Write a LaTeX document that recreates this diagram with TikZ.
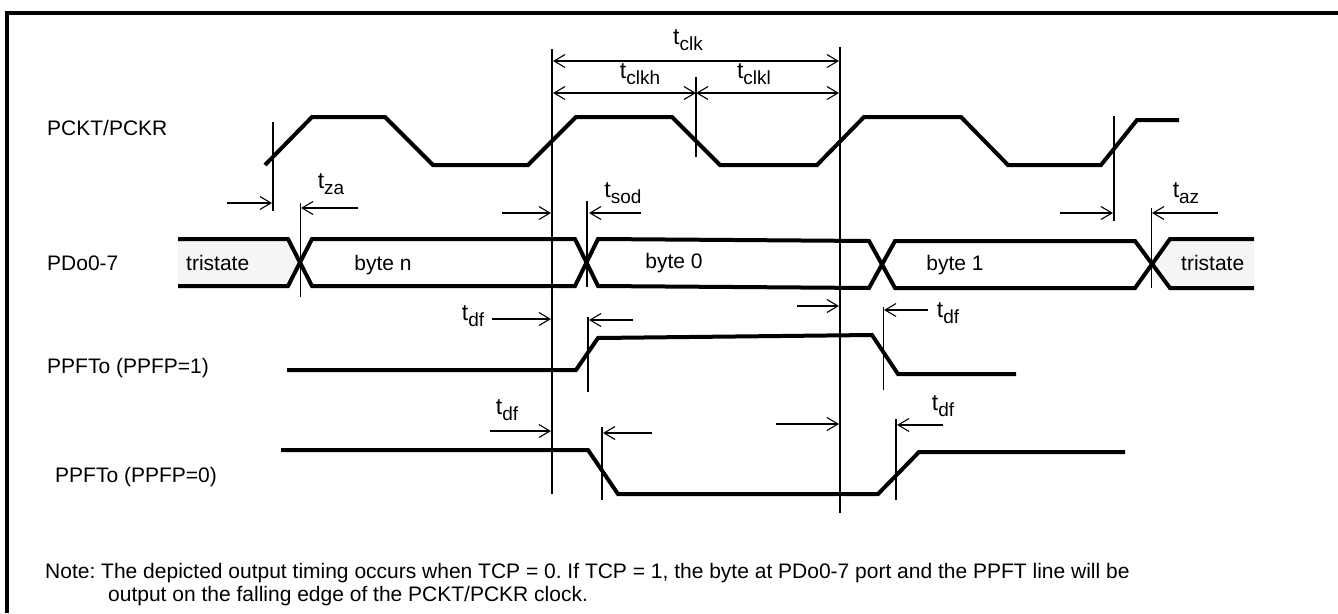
\documentclass[tikz,border=0pt]{standalone}
\usepackage{fontspec}
\setmainfont{Liberation Sans}
\usetikzlibrary{arrows.meta}
\frenchspacing
\newcommand{\tlab}[1]{{\fontsize{23}{23}\selectfont t}{\fontsize{19}{19}\selectfont\raisebox{-5.5pt}{#1}}}
\tikzset{
  sig/.style={line width=4pt, line join=miter},
  ref/.style={line width=1.8pt},
  thinref/.style={line width=1pt},
  dim/.style={line width=1.3pt, -{Straight Barb[length=11pt,width=13pt,line width=1.1pt]}},
  dimboth/.style={line width=1.3pt, {Straight Barb[length=11pt,width=13pt,line width=1.1pt]}-{Straight Barb[length=11pt,width=13pt,line width=1.1pt]}},
  lbl/.style={font=\fontsize{21}{22}\selectfont, inner sep=0pt, anchor=base west},
  tl/.style={inner sep=0pt},
  note/.style={font=\fontsize{21}{22}\selectfont, inner sep=0pt, anchor=base west},
}
\definecolor{tri}{RGB}{245,245,245}
\begin{document}
\begin{tikzpicture}[x=1pt,y=-1pt]
\useasboundingbox (0,0) rectangle (1338,613);
% frame
\draw[line width=4pt] (7,613) -- (7,13) -- (1340,13);

% labels
\node[lbl] (lclk) at (47,135) {PCKT/PCKR};
\node[lbl] (lpd) at (47,270) {PDo0-7};
\node[lbl] (lp1) at (47,373) {PPFTo (PPFP=1)};
\node[lbl] (lp0) at (55,482) {PPFTo (PPFP=0)};

% clock
\draw[sig] (265,165) -- (312,117) -- (385,117) -- (433,165) -- (528,165) -- (576,117) -- (672,117) -- (720,165) -- (817,165) -- (864,117) -- (961,117) -- (1008,165) -- (1101,165) -- (1137,120) -- (1179,120);

% bus: tristate fills
\fill[tri] (178,239) -- (288,239) -- (300,262) -- (288,286) -- (178,286) -- cycle;
\fill[tri] (1254,239) -- (1165,239) -- (1152,262) -- (1165,286) -- (1254,286) -- cycle;
% bus lines
\draw[sig] (178,239) -- (288,239) -- (312,286) -- (575,286) -- (598,239) -- (869,241) -- (895,288) -- (1135,288) -- (1170,239) -- (1254,239);
\draw[sig] (178,286) -- (288,286) -- (312,239) -- (575,239) -- (598,286) -- (869,288) -- (895,241) -- (1135,241) -- (1170,288) -- (1254,288);
\node[lbl] (ts1) at (186,270) {tristate};
\node[lbl,anchor=base] (bn) at (383,270) {byte n};
\node[lbl,anchor=base] (b0) at (674,268) {byte 0};
\node[lbl,anchor=base] (b1) at (955,270) {byte 1};
\node[lbl] (ts2) at (1181,270) {tristate};

% PPFP=1
\draw[sig] (287,370) -- (576,370) -- (598,338) -- (872,335) -- (898,374) -- (1016,374);
% PPFP=0
\draw[sig] (281,450) -- (588,450) -- (618,494) -- (878,494) -- (919,452) -- (1125,452);

% reference lines
\coordinate (r1t) at (273,122); \coordinate (r1b) at (273,211);
\draw[ref] (r1t) -- (r1b);
\coordinate (za t) at (300,203); \coordinate (za b) at (300,297);
\draw[thinref] (za t) -- (za b);
\coordinate (A t) at (552,49); \coordinate (A b) at (552,494);
\draw[ref] (A t) -- (A b);
\coordinate (B t) at (840,47); \coordinate (B b) at (840,513);
\draw[ref] (B t) -- (B b);
\coordinate (M t) at (696,77); \coordinate (M b) at (696,157);
\draw[ref] (M t) -- (M b);
\coordinate (sod t) at (587,201); \coordinate (sod b) at (587,287);
\draw[ref] (sod t) -- (sod b);
\coordinate (p1r t) at (588,317); \coordinate (p1r b) at (588,392);
\draw[ref] (p1r t) -- (p1r b);
\coordinate (p0f t) at (602,427); \coordinate (p0f b) at (602,500);
\draw[ref] (p0f t) -- (p0f b);
\coordinate (p1f t) at (883,307); \coordinate (p1f b) at (883,390);
\draw[thinref] (p1f t) -- (p1f b);
\coordinate (p0r t) at (896,419); \coordinate (p0r b) at (896,500);
\draw[ref] (p0r t) -- (p0r b);
\coordinate (az1 t) at (1114,116); \coordinate (az1 b) at (1114,221);
\draw[ref] (az1 t) -- (az1 b);
\coordinate (az2 t) at (1151,208); \coordinate (az2 b) at (1151,288);
\draw[thinref] (az2 t) -- (az2 b);

% tclk dimensions
\coordinate (c1) at (553,61); \coordinate (c2) at (839,61);
\draw[dimboth] (c1) -- (c2);
\coordinate (h1) at (553,93); \coordinate (h2) at (696,93); \coordinate (h3) at (839,93);
\draw[dimboth] (h1) -- (h2);
\draw[dimboth] (h2) -- (h3);
\node[tl] (tclk) at (688,40) {\tlab{clk}};
\node[tl] (tclkh) at (640,74) {\tlab{clkh}};
\node[tl] (tclkl) at (754,74) {\tlab{clkl}};

% tza
\coordinate (za1) at (227,203); \coordinate (za2) at (272,203);
\draw[dim] (za1) -- (za2);
\coordinate (za3) at (358,208); \coordinate (za4) at (301,208);
\draw[dim] (za3) -- (za4);
\node[tl] (tza) at (331,184) {\tlab{za}};

% tsod
\coordinate (so1) at (502,213); \coordinate (so2) at (551,213);
\draw[dim] (so1) -- (so2);
\coordinate (so3) at (641,213); \coordinate (so4) at (589,213);
\draw[dim] (so3) -- (so4);
\node[tl] (tsod) at (623,193) {\tlab{sod}};

% taz
\coordinate (az1) at (1060,213); \coordinate (az2) at (1113,213);
\draw[dim] (az1) -- (az2);
\coordinate (az3) at (1218,213); \coordinate (az4) at (1152,213);
\draw[dim] (az3) -- (az4);
\node[tl] (taz) at (1186,193) {\tlab{az}};

% tdf PPFP=1
\coordinate (d1) at (492,319); \coordinate (d2) at (551,319);
\draw[dim] (d1) -- (d2);
\coordinate (d3) at (633,320); \coordinate (d4) at (589,320);
\draw[dim] (d3) -- (d4);
\node[tl] (tdf1) at (473,316) {\tlab{df}};
\coordinate (d5) at (797,306); \coordinate (d6) at (839,306);
\draw[dim] (d5) -- (d6);
\coordinate (d7) at (928,310); \coordinate (d8) at (884,310);
\draw[dim] (d7) -- (d8);
\node[tl] (tdf2) at (948,313) {\tlab{df}};

% tdf PPFP=0
\coordinate (e1) at (490,431); \coordinate (e2) at (551,431);
\draw[dim] (e1) -- (e2);
\coordinate (e3) at (652,433); \coordinate (e4) at (603,433);
\draw[dim] (e3) -- (e4);
\node[tl] (tdf3) at (507,410) {\tlab{df}};
\coordinate (e5) at (776,424); \coordinate (e6) at (839,424);
\draw[dim] (e5) -- (e6);
\coordinate (e7) at (943,425); \coordinate (e8) at (897,425);
\draw[dim] (e7) -- (e8);
\node[tl] (tdf4) at (943,406) {\tlab{df}};

% note
\node[note] (n1) at (45,578) {Note: The depicted output timing occurs when TCP = 0. If TCP = 1, the byte at PDo0-7 port and the PPFT line will be};
\node[note] (n2) at (108,601) {output on the falling edge of the PCKT/PCKR clock.};
\end{tikzpicture}
\end{document}
